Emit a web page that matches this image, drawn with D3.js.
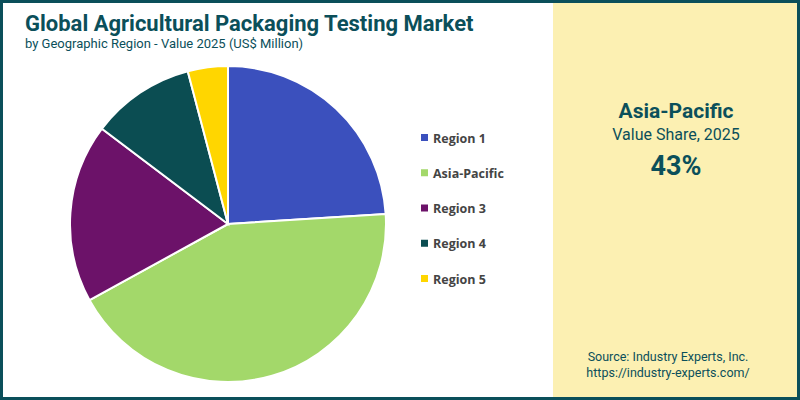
<!DOCTYPE html>
<html><head><meta charset="utf-8">
<script src="https://cdn.jsdelivr.net/npm/d3@7"></script>
<style>body{margin:0}svg{display:block;font-family:Roboto,sans-serif}</style>
</head><body>
<svg id="c" width="800" height="400"></svg>
<script>
const categories = ["Region 1","Asia-Pacific","Region 3","Region 4","Region 5"];
const values = [24.0, 43.0, 18.3, 10.6, 4.1];
const colors = ["#3b50bd","#a3d86a","#6c1269","#0b4d52","#ffd600"];

const svg = d3.select("#c");
svg.append("rect").attr("x",0).attr("y",0).attr("width",800).attr("height",400).attr("fill","#fff");
svg.append("rect").attr("x",553).attr("y",0).attr("width",247).attr("height",400).attr("fill","#fcf0b2");
svg.append("rect").attr("x",1.5).attr("y",1.5).attr("width",797).attr("height",397).attr("fill","none").attr("stroke","#0b4f5a").attr("stroke-width",3);

svg.append("text").attr("x",25).attr("y",31).attr("font-size",22).attr("font-weight",700).attr("fill","#0b4f5a").text("Global Agricultural Packaging Testing Market");
svg.append("text").attr("x",25).attr("y",48).attr("font-size",13).attr("fill","#0b4f5a").text("by Geographic Region - Value 2025 (US$ Million)");

const pie = d3.pie().sort(null).value(d=>d);
const arc = d3.arc().innerRadius(0).outerRadius(158);
const g = svg.append("g").attr("transform","translate(228,224)");
g.selectAll("path").data(pie(values)).join("path").attr("d",arc)
 .attr("fill",(d,i)=>colors[i]).attr("stroke","#fff").attr("stroke-width",2);

const y = d3.scalePoint().domain(categories).range([138,279]);
const lg = svg.append("g");
categories.forEach((c,i)=>{
  lg.append("rect").attr("x",421).attr("y",y(c)-4).attr("width",7).attr("height",7).attr("fill",colors[i]);
  lg.append("text").attr("x",433).attr("y",y(c)+4.5).attr("font-size",12.5).attr("font-weight",700)
    .attr("font-family","'Open Sans',sans-serif").attr("fill","#444").text(c);
});

const cx = 676;
svg.append("text").attr("x",cx).attr("y",118).attr("text-anchor","middle").attr("font-size",21).attr("font-weight",700).attr("fill","#0b4f5a").text(categories[1]);
svg.append("text").attr("x",cx).attr("y",140).attr("text-anchor","middle").attr("font-size",16).attr("fill","#0b4f5a").text("Value Share, 2025");
svg.append("text").attr("x",cx).attr("y",175).attr("text-anchor","middle").attr("font-size",27).attr("font-weight",700).attr("fill","#0b4f5a").text(values[1]+"%");
svg.append("text").attr("x",668).attr("y",361).attr("text-anchor","middle").attr("font-size",12.5).attr("fill","#0b4f5a").text("Source: Industry Experts, Inc.");
svg.append("text").attr("x",668).attr("y",377).attr("text-anchor","middle").attr("font-size",12.5).attr("fill","#0b4f5a").text("https://industry-experts.com/");
</script>
</body></html>
